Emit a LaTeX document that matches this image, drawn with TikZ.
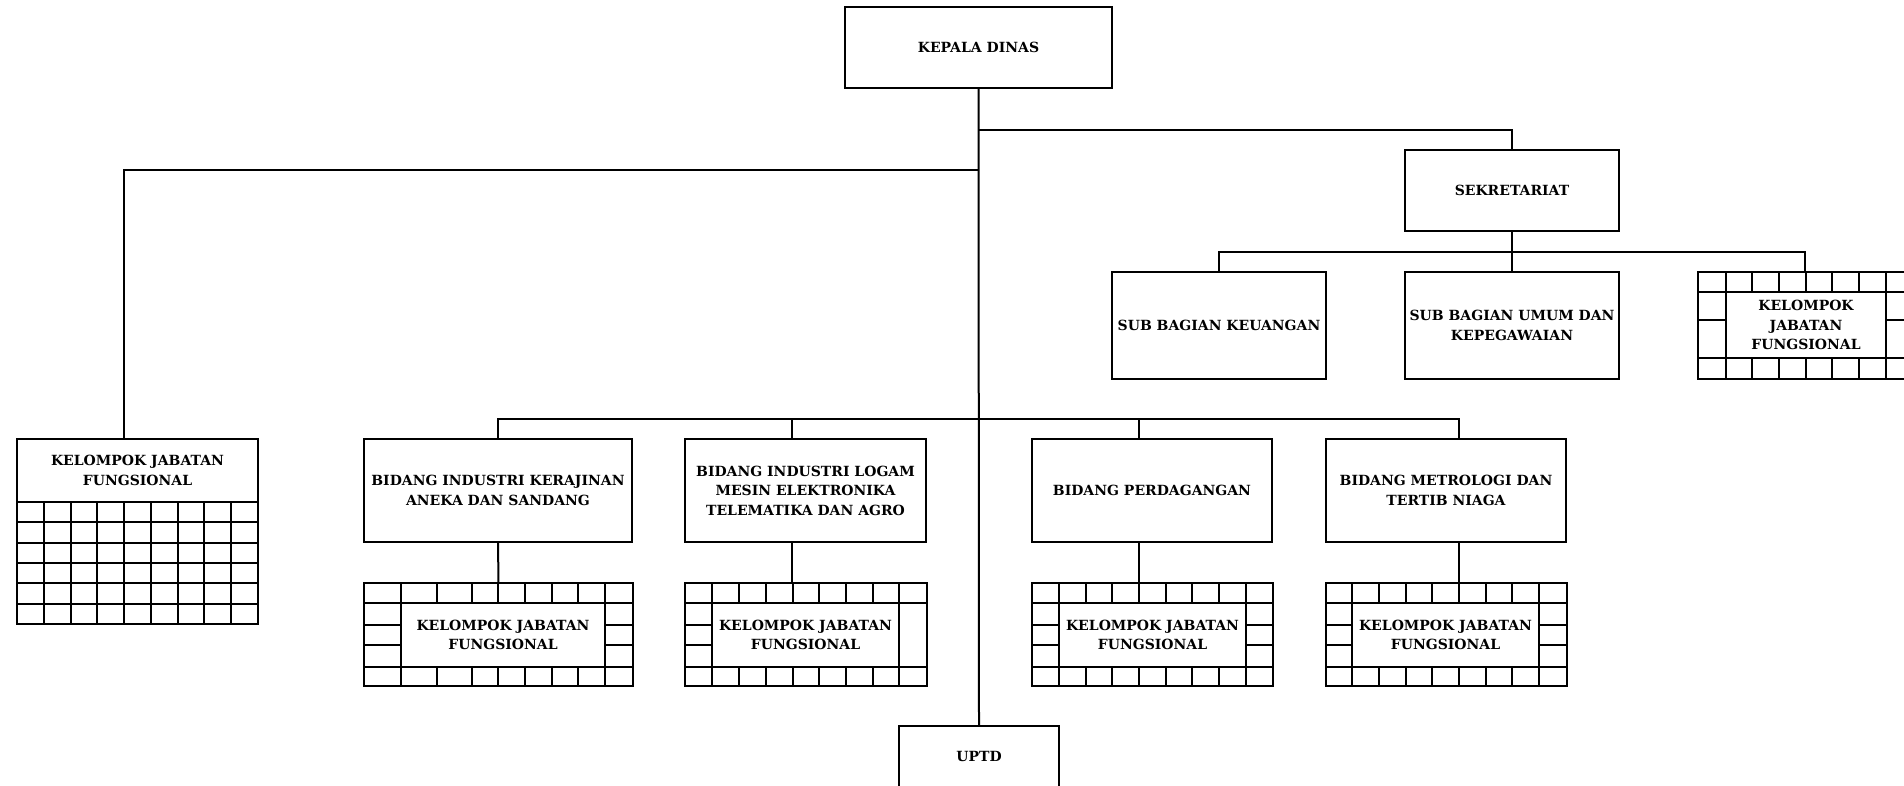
\documentclass[tikz,border=0pt]{standalone}
\usepackage{fontspec}
\setmainfont{DejaVu Serif}
\newcommand\orgbox[6]{%
  \node[box, minimum width={(#4-#2)*1pt}, minimum height={(#5-#3)*1pt}]
    (#1) at ({(#2+#4)/2},{(#3+#5)/2}) {#6};}
\begin{document}
\begin{tikzpicture}[x=1pt,y=-1pt,
  ln/.style={line width=2pt},
  box/.style={draw, line width=2pt, rectangle, inner sep=0pt, outer sep=0pt,
    align=center, font=\fontsize{14}{19.5}\selectfont\bfseries},
  ]
\useasboundingbox (0,0) rectangle (1904,785);
\clip (0,0) rectangle (1904,785);
\fill[white] (0,0) rectangle (1904,785);

% top level
\orgbox{kepala}{845}{7}{1112}{88}{KEPALA DINAS}
\orgbox{uptd}{899}{726}{1059}{786.5}{UPTD}

% secretariat and its sections
\orgbox{sek}{1405}{150}{1619}{231}{SEKRETARIAT}
\orgbox{keu}{1112}{272}{1326}{379}{SUB BAGIAN KEUANGAN}
\orgbox{umum}{1405}{272}{1619}{379}{SUB BAGIAN UMUM DAN\\KEPEGAWAIAN}

% functional group under the secretariat
\orgbox{kjfR}{1698}{272}{1912}{379}{}
\orgbox{kjfRt}{1726}{292}{1886}{358}{KELOMPOK\\JABATAN\\FUNGSIONAL}
\foreach \x in {1726,1752,1779,1806,1832,1859,1886} {
  \draw[ln] (\x,272) -- (\x,292);
  \draw[ln] (\x,358) -- (\x,379);
}
\draw[ln] (1698,292) -- (1912,292);
\draw[ln] (1698,358) -- (1912,358);
\draw[ln] (1698,320) -- (1726,320);
\draw[ln] (1886,320) -- (1912,320);

% functional group on the left
\orgbox{kjfL}{17}{439}{258}{624}{}
\orgbox{kjfLh}{17}{439}{258}{502}{KELOMPOK JABATAN\\FUNGSIONAL}
\foreach \y in {522.3,542.7,563,583.3,603.7}
  \draw[ln] (17,\y) -- (258,\y);
\foreach \i in {1,...,8}
  \draw[ln] ({17+26.78*\i},502) -- ({17+26.78*\i},624);

% fields
\orgbox{b1}{364}{439}{632}{542}{BIDANG INDUSTRI KERAJINAN\\ANEKA DAN SANDANG}
\orgbox{b2}{685}{439}{926}{542}{BIDANG INDUSTRI LOGAM\\MESIN ELEKTRONIKA\\TELEMATIKA DAN AGRO}
\orgbox{b3}{1032}{439}{1272}{542}{BIDANG PERDAGANGAN}
\orgbox{b4}{1326}{439}{1566}{542}{BIDANG METROLOGI DAN\\TERTIB NIAGA}

% functional groups under the fields
\orgbox{k1}{364}{583}{633}{686}{}
\orgbox{k1t}{401}{603}{605}{667}{KELOMPOK JABATAN\\FUNGSIONAL}
\orgbox{k2}{685}{583}{927}{686}{}
\orgbox{k2t}{712}{603}{899}{667}{KELOMPOK JABATAN\\FUNGSIONAL}
\orgbox{k3}{1032}{583}{1273}{686}{}
\orgbox{k3t}{1059}{603}{1246}{667}{KELOMPOK JABATAN\\FUNGSIONAL}
\orgbox{k4}{1326}{583}{1567}{686}{}
\orgbox{k4t}{1352}{603}{1539}{667}{KELOMPOK JABATAN\\FUNGSIONAL}

% grid cells around each functional group
\foreach \xa/\xb/\cols in {364/633/{401,437,472,498,525,552,578,605},
                            685/927/{712,739,766,793,819,846,873,899},
                            1032/1273/{1059,1086,1112,1139,1166,1192,1219,1246},
                            1326/1567/{1352,1379,1406,1432,1459,1486,1512,1539}} {
  \draw[ln] (\xa,603) -- (\xb,603);
  \draw[ln] (\xa,667) -- (\xb,667);
  \foreach \x in \cols {
    \draw[ln] (\x,583) -- (\x,603);
    \draw[ln] (\x,667) -- (\x,686);
  }
}
\foreach \xa/\xb in {364/401, 605/633, 685/712, 1032/1059, 1246/1273, 1326/1352, 1539/1567} {
  \draw[ln] (\xa,625) -- (\xb,625);
  \draw[ln] (\xa,645) -- (\xb,645);
}

% connectors
\coordinate (j1) at (979,130);
\coordinate (j2) at (979,170);
\coordinate (jb) at (979,419);
\coordinate (js) at (1512,252);
\draw[ln] (kepala.south) -- (uptd.north);
\draw[ln] (j1) -| (sek.north);
\draw[ln] (j2) -| ([xshift=-13.5pt]kjfL.north);
\draw[ln] (sek.south) -- (js);
\draw[ln] (js) -| (keu.north);
\draw[ln] (js) -| (kjfR.north);
\draw[ln] (js) -- (umum.north);
\draw[ln] (jb) -| (b1.north);
\draw[ln] (jb) -| ([xshift=-13.5pt]b2.north);
\draw[ln] (jb) -| ([xshift=-13pt]b3.north);
\draw[ln] (jb) -| ([xshift=13pt]b4.north);
\draw[ln] (b1.south) -- (k1.north);
\draw[ln] ([xshift=-13.5pt]b2.south) -- ([xshift=-13.5pt]b2.south |- k2.north);
\draw[ln] ([xshift=-13pt]b3.south) -- ([xshift=-13pt]b3.south |- k3.north);
\draw[ln] ([xshift=13pt]b4.south) -- ([xshift=13pt]b4.south |- k4.north);
\end{tikzpicture}
\end{document}
